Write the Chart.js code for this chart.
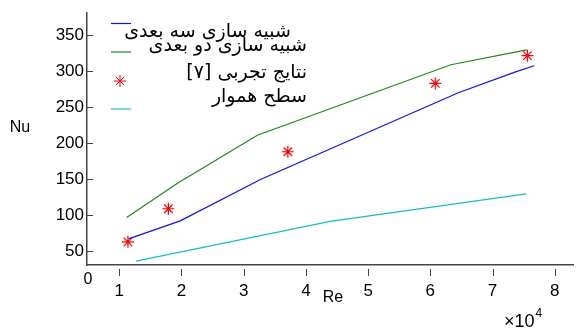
<!DOCTYPE html>
<html lang="fa">
<head>
  <meta charset="UTF-8">
  <title>Nu - Re</title>
  <script src="https://cdn.jsdelivr.net/npm/chart.js"></script>
  <style>
    html, body { margin: 0; padding: 0; background: #fff; }
    #wrap { width: 581px; height: 332px; position: relative; }
  </style>
</head>
<body>
  <div id="wrap"><canvas id="nuChart"></canvas></div>

  <script>
    // Re (x10^4) و Nu
    const sim3dRe = [1.15, 1.98, 3.27, 6.45, 7.37, 7.67];
    const sim3dNu = [67, 92, 149.5, 270, 299, 307.5];
    const sim2dRe = [1.12, 1.93, 3.22, 6.33, 7.55];
    const sim2dNu = [96.5, 144, 211, 309, 329.5];
    const expRe = [1.14, 1.79, 3.71, 6.08, 7.56];
    const expNu = [62.8, 108.8, 188, 283, 321.6];
    const flatRe = [1.27, 4.39, 7.54];
    const flatNu = [36, 91.3, 129.5];

    const legendLabels = ["شبیه سازی سه بعدی", "شبیه سازی دو بعدی", "نتایج تجربی [۷]", "سطح هموار"];
    const xTicks = [1, 2, 3, 4, 5, 6, 7, 8];
    const yTicks = [50, 100, 150, 200, 250, 300, 350];

    const pts = (xs, ys) => xs.map((x, i) => ({ x: x, y: ys[i] }));
    const numFont = "'Liberation Sans', Arial, sans-serif";
    const faFont = "'DejaVu Sans', sans-serif";

    // علامت های کوچک محور و متن های اضافی
    const extras = {
      id: "extras",
      afterDraw(chart) {
        const ctx = chart.ctx;
        const xs = chart.scales.x, ys = chart.scales.y;
        const area = chart.chartArea;
        ctx.save();
        ctx.strokeStyle = "#444";
        ctx.lineWidth = 1;
        xTicks.forEach(v => {
          const px = Math.round(xs.getPixelForValue(v)) + 0.5;
          ctx.beginPath();
          ctx.moveTo(px, area.bottom + 4);
          ctx.lineTo(px, area.bottom + 11);
          ctx.stroke();
        });
        yTicks.forEach(v => {
          const py = Math.round(ys.getPixelForValue(v)) + 0.5;
          ctx.beginPath();
          ctx.moveTo(area.left, py);
          ctx.lineTo(area.left + 6, py);
          ctx.stroke();
        });

        ctx.fillStyle = "#000";
        ctx.font = "16px " + numFont;
        ctx.textBaseline = "middle";
        ctx.textAlign = "center";
        ctx.fillText("0", area.left + 1, area.bottom + 15);
        ctx.fillText("Re", 333, 298);
        ctx.fillText("Nu", 20, 128);
        ctx.textAlign = "left";
        ctx.textBaseline = "alphabetic";
        ctx.font = "18px " + numFont;
        const mult = "\u00d710";
        ctx.fillText(mult, 504, 327);
        const w = ctx.measureText(mult).width;
        ctx.font = "12px " + numFont;
        ctx.fillText("4", 504 + w + 1, 317);

        // legend
        const rows = [
          { y: 23.5, tx: 291, ty: 37 },
          { y: 52, tx: 307, ty: 51 },
          { y: 81, tx: 307, ty: 78 },
          { y: 109, tx: 307, ty: 102 }
        ];
        chart.data.datasets.forEach((ds, i) => {
          const r = rows[i];
          if (ds.showLine === false) {
            ctx.strokeStyle = ds.borderColor;
            ctx.lineWidth = 1;
            const cx = 120, cy = r.y, s = 6;
            ctx.beginPath();
            ctx.moveTo(cx - s, cy); ctx.lineTo(cx + s, cy);
            ctx.moveTo(cx, cy - s); ctx.lineTo(cx, cy + s);
            ctx.moveTo(cx - s * 0.7, cy - s * 0.7); ctx.lineTo(cx + s * 0.7, cy + s * 0.7);
            ctx.moveTo(cx - s * 0.7, cy + s * 0.7); ctx.lineTo(cx + s * 0.7, cy - s * 0.7);
            ctx.stroke();
          } else {
            ctx.strokeStyle = ds.borderColor;
            ctx.lineWidth = 1.2;
            ctx.beginPath();
            ctx.moveTo(111, r.y);
            ctx.lineTo(131, r.y);
            ctx.stroke();
          }
          ctx.fillStyle = "#000";
          ctx.font = "19px " + faFont;
          ctx.textBaseline = "alphabetic";
          ctx.textAlign = "right";
          ctx.direction = "rtl";
          ctx.fillText(ds.label, r.tx, r.ty);
          ctx.direction = "ltr";
        });
        ctx.restore();
      }
    };

    const ctx = document.getElementById("nuChart").getContext("2d");
    new Chart(ctx, {
      type: "line",
      data: {
        datasets: [
          { label: legendLabels[0], data: pts(sim3dRe, sim3dNu), borderColor: "#1010ff", borderWidth: 1.2, pointRadius: 0, tension: 0 },
          { label: legendLabels[1], data: pts(sim2dRe, sim2dNu), borderColor: "#1a8a1a", borderWidth: 1.2, pointRadius: 0, tension: 0 },
          { label: legendLabels[2], data: pts(expRe, expNu), borderColor: "#ff0000", backgroundColor: "#ff0000", borderWidth: 1.2,
            showLine: false, pointStyle: "star", pointRadius: 6, pointHoverRadius: 6 },
          { label: legendLabels[3], data: pts(flatRe, flatNu), borderColor: "#10c0c0", borderWidth: 1.2, pointRadius: 0, tension: 0 }
        ]
      },
      options: {
        responsive: true,
        maintainAspectRatio: false,
        animation: false,
        layout: { padding: { top: 2, right: 0, left: 0, bottom: 0 } },
        plugins: { legend: { display: false }, tooltip: { enabled: false } },
        scales: {
          x: {
            type: "linear",
            min: 0.482,
            max: 8.306,
            afterFit: s => { s.height = 67; },
            afterBuildTicks: s => { s.ticks = xTicks.map(v => ({ value: v })); },
            grid: { display: false, drawTicks: false },
            border: { color: "#444", width: 1.5 },
            ticks: { color: "#000", font: { family: numFont, size: 17 }, padding: 16, maxRotation: 0, autoSkip: false }
          },
          y: {
            min: 30.6,
            max: 380.6,
            afterFit: s => { s.width = 87; },
            afterBuildTicks: s => { s.ticks = yTicks.map(v => ({ value: v })); },
            grid: { display: false, drawTicks: false },
            border: { color: "#444", width: 1.5 },
            ticks: { color: "#000", font: { family: numFont, size: 17 }, padding: 3, autoSkip: false }
          }
        }
      },
      plugins: [extras]
    });
  </script>
</body>
</html>
